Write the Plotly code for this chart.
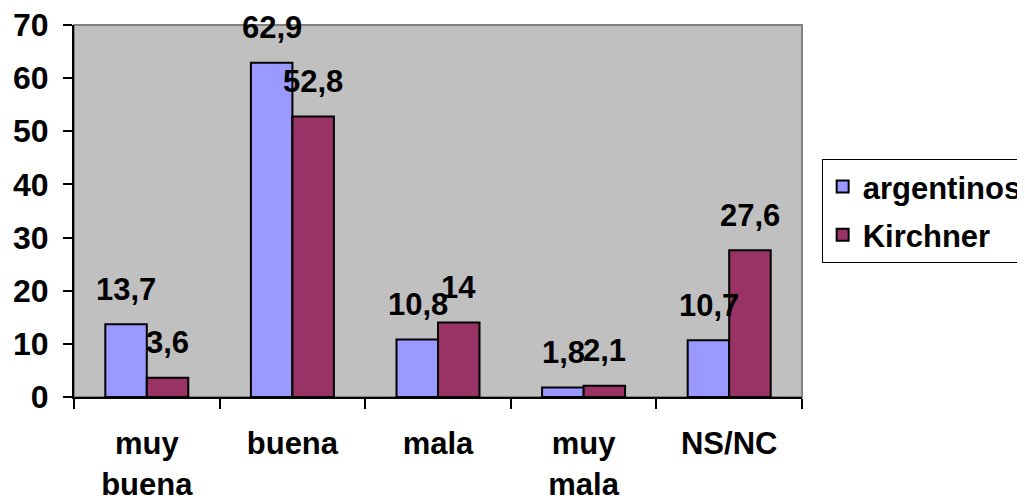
import plotly.graph_objects as go

categories = ["muy buena", "buena", "mala", "muy mala", "NS/NC"]
tick_labels = ["muy<br>buena", "buena", "mala", "muy<br>mala", "NS/NC"]
argentinos = [13.7, 62.9, 10.8, 1.8, 10.7]
kirchner = [3.6, 52.8, 14, 2.1, 27.6]
label_arg = ["13,7", "62,9", "10,8", "1,8", "10,7"]
label_kir = ["3,6", "52,8", "14", "2,1", "27,6"]

FONT = "Arial, Liberation Sans, Helvetica, sans-serif"
FS = 31

fig = go.Figure()
fig.add_trace(go.Bar(name="argentinos", x=categories, y=argentinos,
                     marker=dict(color="#9999FF", line=dict(color="black", width=2)),
                     legendgroup="a"))
fig.add_trace(go.Bar(name="Kirchner", x=categories, y=kirchner,
                     marker=dict(color="#993366", line=dict(color="black", width=2)),
                     legendgroup="k"))

for c, v, t in zip(categories, argentinos, label_arg):
    fig.add_annotation(x=c, y=v, text=t, showarrow=False, xshift=-20.5, yshift=35,
                       yanchor="middle", font=dict(family=FONT, size=FS, color="black", weight="bold"))
for c, v, t in zip(categories, kirchner, label_kir):
    fig.add_annotation(x=c, y=v, text=t, showarrow=False, xshift=20.5, yshift=35,
                       yanchor="middle", font=dict(family=FONT, size=FS, color="black", weight="bold"))

# gray top/right frame
fig.add_shape(type="rect", xref="paper", yref="paper", x0=0, y0=0, x1=1, y1=1,
              line=dict(color="#808080", width=2), layer="below")

fig.update_layout(
    width=1017, height=492,
    margin=dict(l=66, r=223, t=17, b=103, autoexpand=False),
    paper_bgcolor="white", plot_bgcolor="#C0C0C0",
    barmode="group", bargap=0.43, bargroupgap=0,
    font=dict(family=FONT, size=FS, color="black", weight="bold"),
    legend=dict(x=1.027, y=0.64, xanchor="left", yanchor="top",
                bordercolor="black", borderwidth=1, bgcolor="white",
                traceorder="grouped", tracegroupgap=5,
                font=dict(family=FONT, size=FS, color="black", weight="bold")),
    xaxis=dict(type="category", tickmode="array", tickvals=categories, ticktext=tick_labels,
               showline=True, linecolor="black", linewidth=2, automargin=False,
               ticks="outside", ticklen=10, tickwidth=2, tickcolor="black",
               tickson="boundaries", showgrid=False, ticklabelstandoff=18),
    yaxis=dict(range=[0, 70], dtick=10, showline=True, linecolor="black", linewidth=2,
               automargin=False, tickfont=dict(size=32), ticklabeloverflow="allow",
               tickmode="array", tickvals=[0, 10, 20, 30, 40, 50, 60, 70],
               ticks="outside", ticklen=9, tickwidth=2, tickcolor="black",
               showgrid=False, zeroline=False, ticklabelstandoff=8),
)

fig.write_html("out.html")
